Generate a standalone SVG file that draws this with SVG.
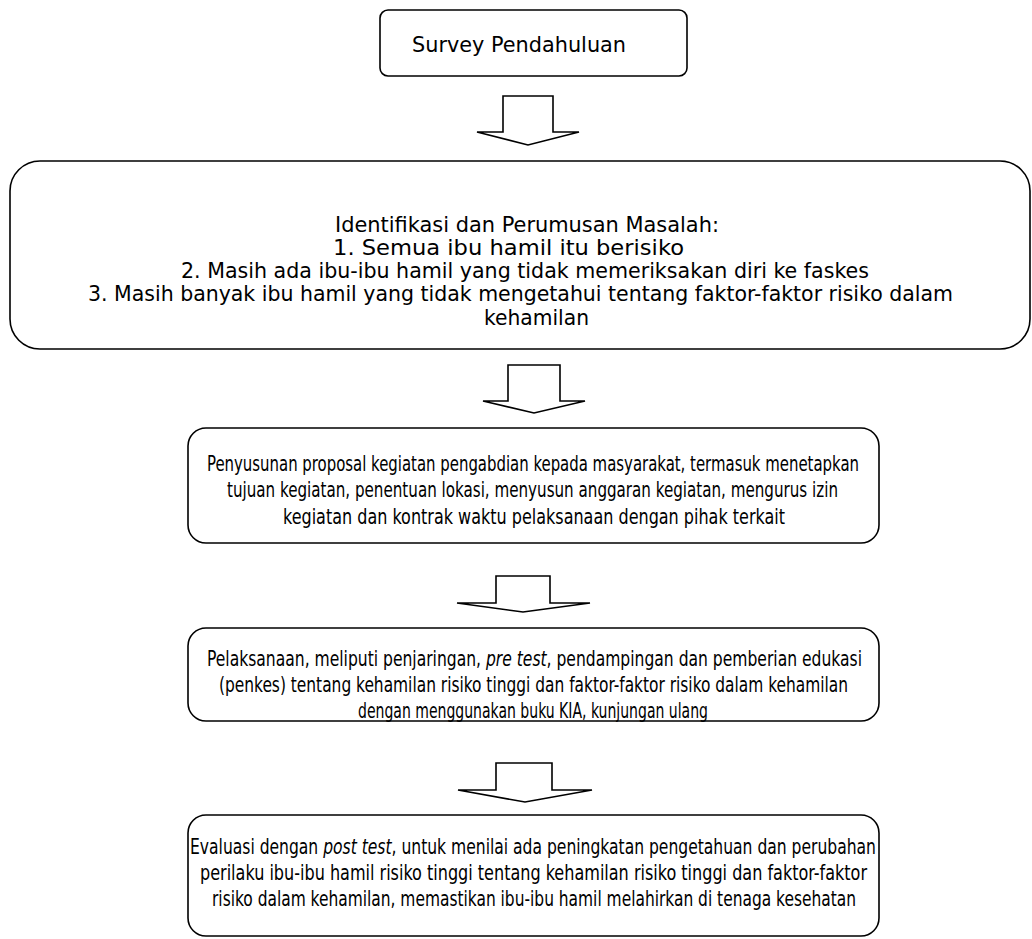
<svg xmlns="http://www.w3.org/2000/svg" width="1032" height="939" viewBox="0 0 1032 939">
<style>
.box{fill:#fff;stroke:#000;stroke-width:1.6}
.arr{fill:#fff;stroke:#000;stroke-width:1.6;stroke-linejoin:miter}
text{font-family:"DejaVu Sans","Liberation Sans",sans-serif;fill:#000}
.t1{font-size:22px}
.t2{font-size:21px}
.t3{font-size:22px;font-family:"DejaVu Sans Condensed","DejaVu Sans","Liberation Sans",sans-serif;font-stretch:condensed}
.it{font-style:italic}
</style>
<rect width="1032" height="939" fill="#fff"/>
<g id="connectors">
<polygon class="arr" points="503,96 553,96 553,132 579,132 528,145 477,132 503,132"/>
<polygon class="arr" points="508,365 560,365 560,401 585,401 534,413 483,401 508,401"/>
<polygon class="arr" points="496,576 550,576 550,603 590,603 523,612 457,603 496,603"/>
<polygon class="arr" points="496,763 552,763 552,790 592,790 525,802 458,790 496,790"/>
</g>
<g id="node1">
<rect class="box" x="380" y="10" width="307" height="66" rx="8"/>
<text class="t1" x="412" y="52" textLength="214" lengthAdjust="spacingAndGlyphs">Survey Pendahuluan</text>
</g>
<g id="node2">
<rect class="box" x="10" y="161" width="1020" height="188" rx="30"/>
<text class="t2" x="335" y="232" textLength="384" lengthAdjust="spacingAndGlyphs">Identifikasi dan Perumusan Masalah:</text>
<text class="t2" x="333" y="255" textLength="351" lengthAdjust="spacingAndGlyphs">1. Semua ibu hamil itu berisiko</text>
<text class="t2" x="181" y="278" textLength="688" lengthAdjust="spacingAndGlyphs">2. Masih ada ibu-ibu hamil yang tidak memeriksakan diri ke faskes</text>
<text class="t2" x="88" y="301" textLength="865" lengthAdjust="spacingAndGlyphs">3. Masih banyak ibu hamil yang tidak mengetahui tentang faktor-faktor risiko dalam</text>
<text class="t2" x="484" y="325" textLength="105" lengthAdjust="spacingAndGlyphs">kehamilan</text>
</g>
<g id="node3">
<rect class="box" x="188" y="428" width="691" height="115" rx="18"/>
<text class="t3" x="207" y="471" textLength="652" lengthAdjust="spacingAndGlyphs">Penyusunan proposal kegiatan pengabdian kepada masyarakat, termasuk menetapkan</text>
<text class="t3" x="227" y="497" textLength="611" lengthAdjust="spacingAndGlyphs">tujuan kegiatan, penentuan lokasi, menyusun anggaran kegiatan, mengurus izin</text>
<text class="t3" x="283" y="524" textLength="502" lengthAdjust="spacingAndGlyphs">kegiatan dan kontrak waktu pelaksanaan dengan pihak terkait</text>
</g>
<g id="node4">
<rect class="box" x="188" y="628" width="691" height="93" rx="18"/>
<text class="t3" x="207" y="666" textLength="655" lengthAdjust="spacingAndGlyphs">Pelaksanaan, meliputi penjaringan, <tspan class="it">pre test</tspan>, pendampingan dan pemberian edukasi</text>
<text class="t3" x="219" y="692" textLength="629" lengthAdjust="spacingAndGlyphs">(penkes) tentang kehamilan risiko tinggi dan faktor-faktor risiko dalam kehamilan</text>
<text class="t3" x="358" y="718" textLength="350" lengthAdjust="spacingAndGlyphs">dengan menggunakan buku KIA, kunjungan ulang</text>
</g>
<g id="node5">
<rect class="box" x="188" y="815" width="691" height="121" rx="18"/>
<text class="t3" x="190" y="854" textLength="686" lengthAdjust="spacingAndGlyphs">Evaluasi dengan <tspan class="it">post test</tspan>, untuk menilai ada peningkatan pengetahuan dan perubahan</text>
<text class="t3" x="200" y="880" textLength="667" lengthAdjust="spacingAndGlyphs">perilaku ibu-ibu hamil risiko tinggi tentang kehamilan risiko tinggi dan faktor-faktor</text>
<text class="t3" x="212" y="906" textLength="644" lengthAdjust="spacingAndGlyphs">risiko dalam kehamilan, memastikan ibu-ibu hamil melahirkan di tenaga kesehatan</text>
</g>
</svg>
